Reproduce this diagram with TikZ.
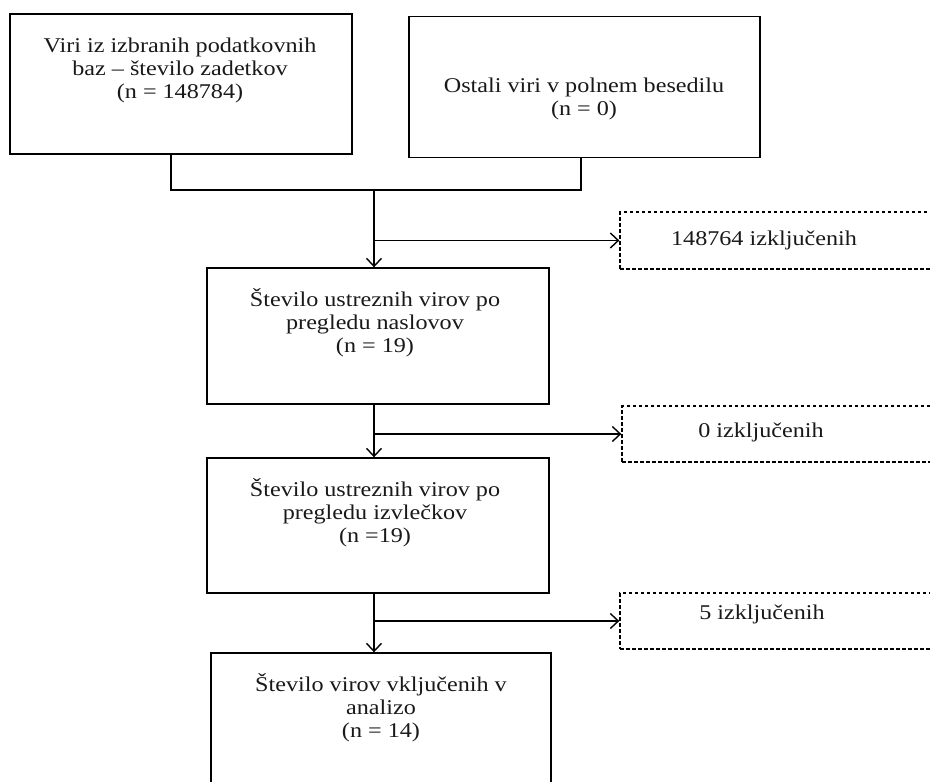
\documentclass[tikz,border=0pt]{standalone}
\usepackage{fontspec}
\setmainfont[FakeStretch=1.15]{Liberation Serif}
\usetikzlibrary{arrows.meta}
\begin{document}
\begin{tikzpicture}[x=1pt,y=-1pt,
  box/.style={draw=black, line width=1.4pt, rectangle, inner sep=0pt},
  dbox/.style={draw=black, line width=1.3pt, dash pattern=on 3.5pt off 2.5pt, rectangle, inner sep=0pt},
  txt/.style={align=center, inner sep=0pt, text=black!90, font=\fontsize{21}{23}\selectfont},
  conn/.style={draw=black, line width=1.4pt},
  arr/.style={conn, -{Straight Barb[length=8pt,width=15pt,line width=1.4pt]}}]
\useasboundingbox (0,0) rectangle (930,782);
% boxes
\node[box, minimum width=342pt, minimum height=140pt] (b1) at (181,84) {};
\node[txt] (t1) at (180,70) {Viri iz izbranih podatkovnih\\baz – število zadetkov\\(n = 148784)};
\node[box, minimum width=351pt, minimum height=141pt] (b2) at (584.5,87) {};
\node[txt] (t2) at (584,99) {Ostali viri v polnem besedilu\\(n = 0)};
\node[box, minimum width=342pt, minimum height=136pt] (b3) at (378,336) {};
\node[txt] (t3) at (375,323) {Število ustreznih virov po\\pregledu naslovov\\(n = 19)};
\node[box, minimum width=342pt, minimum height=135pt] (b4) at (378,525.5) {};
\node[txt] (t4) at (375,513) {Število ustreznih virov po\\pregledu izvlečkov\\(n =19)};
\node[box, minimum width=340pt, minimum height=160pt] (b5) at (381,733) {};
\node[txt] (t5) at (381,708) {Število virov vključenih v\\analizo\\(n = 14)};
% dashed boxes
\node[dbox, minimum width=320pt, minimum height=57pt] (d1) at (780,240.5) {};
\node[txt] (e1) at (764,240) {148764 izključenih};
\node[dbox, minimum width=318pt, minimum height=56pt] (d2) at (781,434) {};
\node[txt] (e2) at (761,432) {0 izključenih};
\node[dbox, minimum width=320pt, minimum height=56pt] (d3) at (780,621) {};
\node[txt] (e3) at (762,614) {5 izključenih};
% connectors
\coordinate (j1) at (374,190);
\coordinate (j2) at (374,404);
\coordinate (j3) at (374,593);
\draw[conn] (b1.south -| 171,0) |- (j1) -| (b2.south -| 581,0);
\draw[arr] (j1) -- (j1 |- b3.north);
\draw[arr] (j1 |- d1.west) -- (d1.west);
\draw[arr] (j2 |- b3.south) -- (j2 |- b4.north);
\draw[arr] (j2 |- d2.west) -- (d2.west);
\draw[arr] (j3 |- b4.south) -- (j3 |- b5.north);
\draw[arr] (j3 |- d3.west) -- (d3.west);
\end{tikzpicture}
\end{document}
